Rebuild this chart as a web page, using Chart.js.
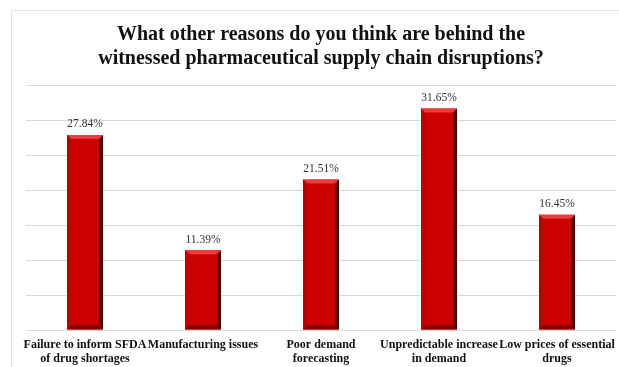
<!doctype html>
<html lang="en">
<head>
    <meta charset="utf-8">
    <script src="https://cdn.jsdelivr.net/npm/chart.js@4.4.1/dist/chart.umd.min.js"></script>
    <title>Supply chain disruptions</title>
    <style>
        html, body {
            margin: 0;
            padding: 0;
            background: #ffffff;
            overflow: hidden;
        }

        #frame {
            position: absolute;
            left: 11px;
            top: 10px;
            width: 640px;
            height: 400px;
            border: 1px solid #e3e3e3;
        }

        #chart {
            position: absolute;
            left: 0;
            top: 0;
        }
    </style>
</head>
<body>
<div id="frame"></div>
<canvas id="chart" width="619" height="367"></canvas>

<script>
    // data
    const categories = [
        ['Failure to inform SFDA', 'of drug shortages'],
        ['Manufacturing issues'],
        ['Poor demand', 'forecasting'],
        ['Unpredictable increase', 'in demand'],
        ['Low prices of essential', 'drugs']
    ];
    const values = [27.84, 11.39, 21.51, 31.65, 16.45];
    const titleLines = [
        'What other reasons do you think are behind the',
        'witnessed pharmaceutical supply chain disruptions?'
    ];

    const serif = '"Liberation Serif", "Times New Roman", serif';

    // bevel look on the bars, uses the bar elements the library laid out
    const bevel = {
        id: 'bevel',
        afterDatasetsDraw(chart) {
            const ctx = chart.ctx;
            chart.getDatasetMeta(0).data.forEach(function (bar) {
                const l = bar.x - bar.width / 2, r = bar.x + bar.width / 2;
                const t = bar.y, b = bar.base, e = 4;
                ctx.save();
                // right edge
                let g = ctx.createLinearGradient(r - e, 0, r, 0);
                g.addColorStop(0, '#8a0000');
                g.addColorStop(1, '#3a0000');
                ctx.fillStyle = g;
                ctx.beginPath();
                ctx.moveTo(r - e, t + e); ctx.lineTo(r, t); ctx.lineTo(r, b); ctx.lineTo(r - e, b - e);
                ctx.closePath(); ctx.fill();
                // bottom
                ctx.fillStyle = '#7a0000';
                ctx.beginPath();
                ctx.moveTo(l, b); ctx.lineTo(l + e, b - e); ctx.lineTo(r - e, b - e); ctx.lineTo(r, b);
                ctx.closePath(); ctx.fill();
                // top
                ctx.fillStyle = '#ee3a3a';
                ctx.beginPath();
                ctx.moveTo(l, t); ctx.lineTo(r, t); ctx.lineTo(r - e, t + e); ctx.lineTo(l + e, t + e);
                ctx.closePath(); ctx.fill();
                // left edge
                ctx.fillStyle = '#b80000';
                ctx.beginPath();
                ctx.moveTo(l, t); ctx.lineTo(l + e, t + e); ctx.lineTo(l + e, b - e); ctx.lineTo(l, b);
                ctx.closePath(); ctx.fill();
                ctx.restore();
            });
        }
    };

    const valueLabels = {
        id: 'valueLabels',
        afterDatasetsDraw(chart) {
            const ctx = chart.ctx;
            ctx.save();
            ctx.font = '11.5px ' + serif;
            ctx.fillStyle = '#333333';
            ctx.textAlign = 'center';
            ctx.textBaseline = 'bottom';
            chart.getDatasetMeta(0).data.forEach(function (bar, i) {
                ctx.fillText(values[i].toFixed(2) + '%', bar.x, bar.y - 5);
            });
            ctx.restore();
        }
    };

    const config = {
        type: 'bar',
        data: {
            labels: categories,
            datasets: [{
                data: values,
                backgroundColor: '#cc0000',
                borderWidth: 0,
                categoryPercentage: 1,
                barPercentage: 0.305
            }]
        },
        options: {
            responsive: false,
            animation: false,
            devicePixelRatio: 1,
            layout: {
                padding: {left: 26, right: 3, top: 23, bottom: 0}
            },
            plugins: {
                legend: {display: false},
                tooltip: {enabled: false},
                title: {
                    display: true,
                    text: titleLines,
                    color: '#111111',
                    font: {family: serif, size: 20, weight: 'bold', lineHeight: 1.2},
                    padding: {top: 0, bottom: 14}
                }
            },
            scales: {
                x: {
                    grid: {display: false, drawTicks: false},
                    border: {display: false},
                    ticks: {
                        color: '#111111',
                        font: {family: serif, size: 12, weight: 'bold', lineHeight: 1.15},
                        maxRotation: 0,
                        autoSkip: false,
                        padding: 8
                    },
                    afterFit(scale) {
                        scale.paddingLeft = 0;
                        scale.paddingRight = 0;
                        scale.height = 37;
                    }
                },
                y: {
                    min: 0,
                    max: 35,
                    ticks: {display: false, stepSize: 5},
                    border: {display: false},
                    grid: {color: '#d9d9d9', drawTicks: false}
                }
            }
        },
        plugins: [bevel, valueLabels]
    };

    const chart = new Chart(document.getElementById('chart'), config);
</script>
</body>
</html>
